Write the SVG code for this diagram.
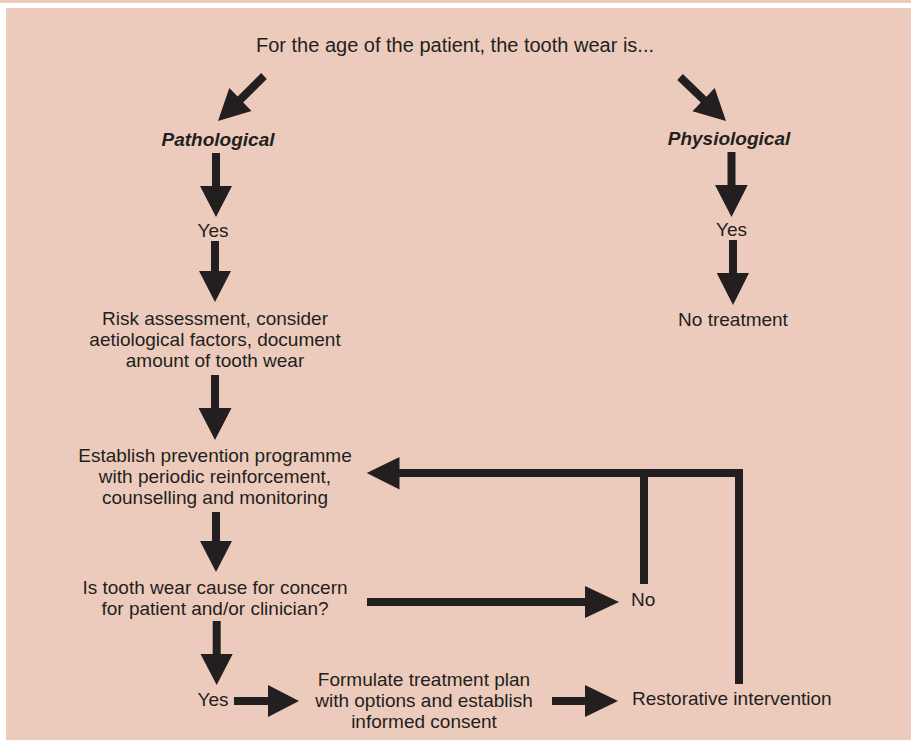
<svg xmlns="http://www.w3.org/2000/svg" width="911" height="740" viewBox="0 0 911 740">
<style>
.bg{fill:#EDCBBC}
.t{font-family:"Liberation Sans",Arial,sans-serif;font-size:19px;fill:#231F20;text-anchor:middle}
.s{text-anchor:start}
.ti{font-size:20px}
.b{font-weight:bold;font-style:italic}
.ar{fill:#231F20}
.ln{fill:none;stroke:#231F20;stroke-width:8;stroke-linejoin:miter;stroke-linecap:butt}
</style>
<rect x="0" y="0" width="911" height="740" fill="#ffffff"/>
<rect class="bg" x="0" y="0" width="911" height="3"/>
<rect class="bg" x="6" y="8" width="905" height="732"/>

<g id="title"><text class="t ti" x="455" y="52">For the age of the patient, the tooth wear is...</text></g>
<g id="pathological"><text class="t b" x="218" y="146">Pathological</text></g>
<g id="yes-left"><text class="t" x="213" y="237">Yes</text></g>
<g id="risk">
<text class="t" x="215" y="325">Risk assessment, consider</text>
<text class="t" x="215" y="346">aetiological factors, document</text>
<text class="t" x="215" y="367">amount of tooth wear</text>
</g>
<g id="prevention">
<text class="t" x="215" y="462">Establish prevention programme</text>
<text class="t" x="215" y="483">with periodic reinforcement,</text>
<text class="t" x="215" y="504">counselling and monitoring</text>
</g>
<g id="concern">
<text class="t" x="215" y="594">Is tooth wear cause for concern</text>
<text class="t" x="215" y="615">for patient and/or clinician?</text>
</g>
<g id="yes-bottom"><text class="t" x="213" y="706">Yes</text></g>
<g id="formulate">
<text class="t" x="424" y="686">Formulate treatment plan</text>
<text class="t" x="424" y="707">with options and establish</text>
<text class="t" x="424" y="728">informed consent</text>
</g>
<g id="restorative"><text class="t s" x="632" y="705">Restorative intervention</text></g>
<g id="no"><text class="t s" x="631" y="606">No</text></g>
<g id="physiological"><text class="t b" x="729" y="145">Physiological</text></g>
<g id="yes-right"><text class="t" x="731.5" y="236">Yes</text></g>
<g id="no-treatment"><text class="t" x="733" y="326">No treatment</text></g>

<g id="connectors">
<polygon class="ar" points="261.2,73.1 266.8,78.9 243.2,102.4 251.5,111.1 218,121 229.3,87.9 237.6,96.6"/>
<polygon class="ar" points="682.8,74.1 677.2,79.9 700.8,102.5 692.5,111.2 726,121 714.7,88 706.4,96.7"/>
<!-- down arrows -->
<polygon class="ar" points="212,153 220,153 220,186 232,186 216,217 200,186 212,186"/>
<polygon class="ar" points="211,241 219,241 219,271 231,271 215,302 199,271 211,271"/>
<polygon class="ar" points="211,375 219,375 219,408 231.5,408 215,440 198.5,408 211,408"/>
<polygon class="ar" points="212,512 220,512 220,541 232,541 216,572 200,541 212,541"/>
<polygon class="ar" points="212.7,621 220.7,621 220.7,654 232.7,654 216.7,685 200.5,654 212.7,654"/>
<polygon class="ar" points="727.5,152 735.5,152 735.5,185 747.7,185 731.5,217 715,185 727.5,185"/>
<polygon class="ar" points="729,240 737,240 737,273 749,273 733,305 716.7,273 729,273"/>
<!-- horizontal arrows -->
<polygon class="ar" points="234,697 268,697 268,685 299,701 268,717 268,705 234,705"/>
<polygon class="ar" points="552,697 585,697 585,685 618,701 585,717 585,705 552,705"/>
<polygon class="ar" points="367,598 585,598 585,586 619,602 585,618 585,606 367,606"/>
<!-- feedback loop -->
<polyline class="ln" points="739,684 739,473 398,473"/>
<line class="ln" x1="644" y1="584" x2="644" y2="473"/>
<polygon class="ar" points="399.5,457 399.5,489.5 366.7,473"/>
</g>
</svg>
